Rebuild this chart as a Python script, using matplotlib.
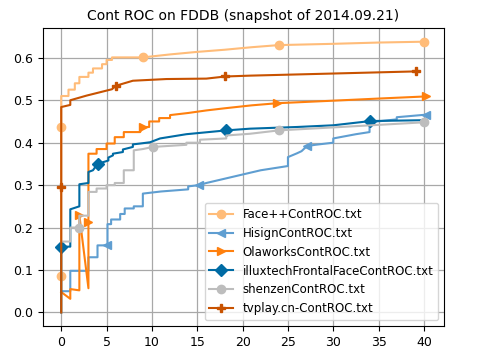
import matplotlib
matplotlib.use("Agg")
from matplotlib import pyplot as plt

# ROC points (false positives, true positive rate)
face_x = [0, 0, 0, 0, 0.8, 0.8, 1.5, 1.5, 2, 2, 3, 3, 3.5, 3.5, 4.5, 4.5, 5, 5, 5.6, 5.6,
          9, 12, 15, 18, 21, 24, 30, 35, 40]
face_y = [0, 0.085, 0.438, 0.51, 0.51, 0.525, 0.525, 0.54, 0.54, 0.555, 0.555, 0.565, 0.565,
          0.575, 0.575, 0.585, 0.585, 0.595, 0.595, 0.601, 0.601, 0.608, 0.614, 0.619, 0.625,
          0.63, 0.633, 0.636, 0.638]
face_marks = [1, 2, 20, 25, 28]

hisign_x = [0, 1, 1, 3, 3, 4, 4, 5.1, 5.1, 5.5, 5.5, 6.5, 6.5, 7, 7, 8, 8, 9, 9, 11, 14, 14,
            15.2, 16, 17, 18, 19, 20, 22, 25, 25, 26, 26.5, 27.1, 28, 30, 30, 32.5, 34, 34,
            37, 37, 40.2]
hisign_y = [0.05, 0.05, 0.098, 0.098, 0.13, 0.13, 0.158, 0.158, 0.208, 0.208, 0.219, 0.219,
            0.232, 0.232, 0.245, 0.245, 0.25, 0.25, 0.28, 0.285, 0.29, 0.297, 0.30, 0.305, 0.31,
            0.315, 0.32, 0.325, 0.335, 0.345, 0.366, 0.375, 0.38, 0.392, 0.395, 0.40, 0.41,
            0.42, 0.425, 0.448, 0.455, 0.46, 0.466]
hisign_marks = [7, 22, 33, 42]

ola_x = [0, 1, 1, 2, 2, 3, 3, 3, 3.9, 3.9, 5, 5, 5.9, 5.9, 6.9, 6.9, 8.7, 9, 9.7, 9.7,
         10.8, 10.8, 12, 12, 14, 16, 18, 21, 23.8, 30, 35, 40.2]
ola_y = [0.048, 0.032, 0.055, 0.052, 0.229, 0.057, 0.214, 0.374, 0.374, 0.385, 0.385, 0.398,
         0.398, 0.413, 0.413, 0.425, 0.425, 0.437, 0.437, 0.45, 0.45, 0.458, 0.458, 0.465,
         0.47, 0.476, 0.481, 0.488, 0.493, 0.499, 0.504, 0.509]
ola_marks = [4, 6, 17, 28, 31]

illux_x = [0, 0, 1, 1, 2, 2, 3, 3, 3.5, 4, 5.2, 5.2, 5.7, 5.7, 6.8, 6.8, 7.9, 7.9, 8.7,
           9.8, 10.9, 13.8, 18.2, 20.8, 26, 30, 34.1, 40]
illux_y = [0, 0.155, 0.155, 0.243, 0.25, 0.302, 0.305, 0.331, 0.335, 0.35, 0.358, 0.365, 0.37,
           0.374, 0.378, 0.384, 0.39, 0.396, 0.398, 0.401, 0.41, 0.42, 0.429, 0.433, 0.437,
           0.441, 0.451, 0.453]
illux_marks = [1, 9, 22, 26]

shen_x = [0, 1, 1, 2, 2, 3, 3, 3.9, 3.9, 5, 5, 5.9, 5.9, 6.9, 6.9, 8, 8, 9, 10.1, 13.8,
          13.8, 15.3, 15.3, 18.2, 18.2, 20.8, 24, 30, 35, 40]
shen_y = [0.167, 0.167, 0.2, 0.2, 0.228, 0.228, 0.284, 0.284, 0.292, 0.292, 0.3, 0.3, 0.305,
          0.305, 0.335, 0.335, 0.382, 0.385, 0.39, 0.395, 0.4, 0.4, 0.407, 0.41, 0.417, 0.421,
          0.429, 0.436, 0.442, 0.448]
shen_marks = [3, 18, 26, 29]

tv_x = [0, 0, 0, 1, 1, 2.8, 4.3, 5.6, 6, 7.9, 11.6, 16, 18.1, 20.8, 30, 39.1]
tv_y = [0, 0.295, 0.484, 0.489, 0.5, 0.511, 0.519, 0.526, 0.534, 0.546, 0.55, 0.551, 0.556,
        0.558, 0.563, 0.568]
tv_marks = [1, 8, 12, 15]

series = [
    ("Face++ContROC.txt", face_x, face_y, face_marks, "#FFBC79", "o"),
    ("HisignContROC.txt", hisign_x, hisign_y, hisign_marks, "#5F9ED1", "<"),
    ("OlaworksContROC.txt", ola_x, ola_y, ola_marks, "#FF800E", ">"),
    ("illuxtechFrontalFaceContROC.txt", illux_x, illux_y, illux_marks, "#006BA4", "D"),
    ("shenzenContROC.txt", shen_x, shen_y, shen_marks, "#BDBDBD", "o"),
    ("tvplay.cn-ContROC.txt", tv_x, tv_y, tv_marks, "#C85200", "P"),
]

fig = plt.figure(figsize=(5, 3.52), dpi=100)
ax = fig.add_axes([0.086, 0.074, 0.802, 0.846])
for label, x, y, marks, color, marker in series:
    ax.plot(x, y, color=color, marker=marker, markevery=marks, label=label,
            linewidth=1.5, markersize=6)

ax.set_title("Cont ROC on FDDB (snapshot of 2014.09.21)", fontsize=10)
ax.set_xticks(range(0, 41, 5))
ax.tick_params(labelsize=9)
ax.grid(True, color="#a8a8a8", linewidth=0.9)
ax.legend(loc="lower right", fontsize=8.5, handlelength=2)
fig.savefig("out.png", dpi=100)
